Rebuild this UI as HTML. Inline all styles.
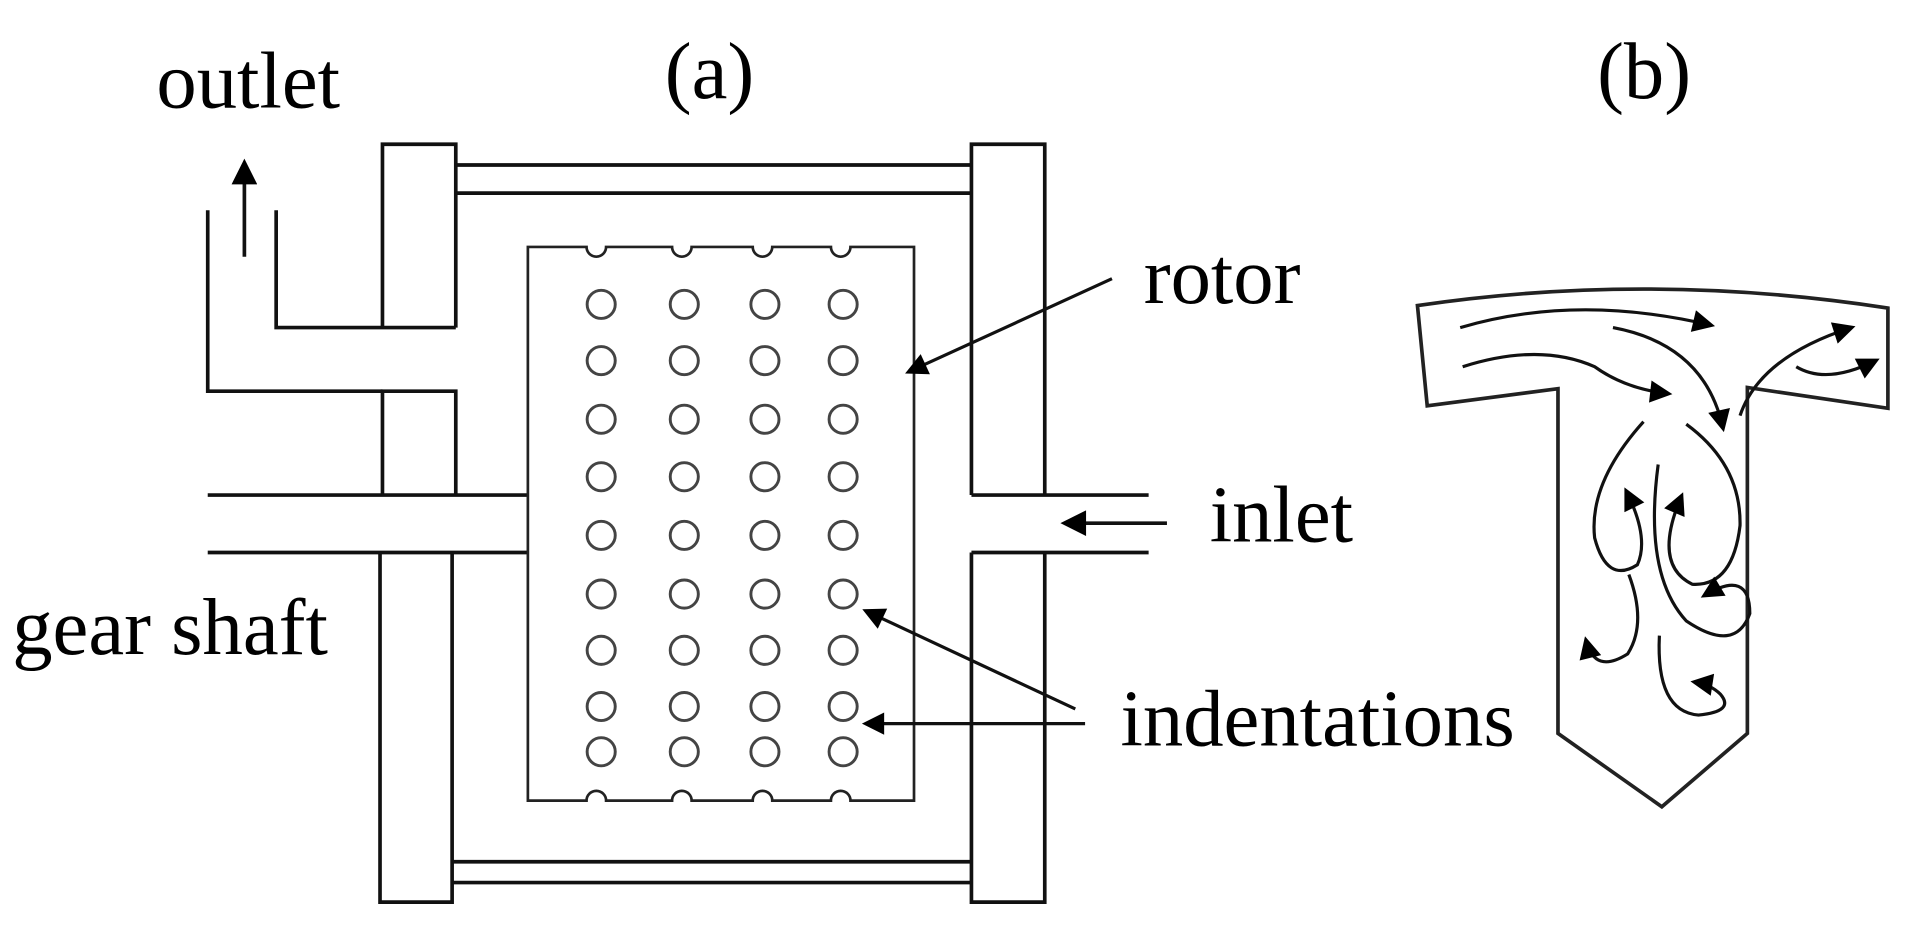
<!DOCTYPE html>
<html><head><meta charset="utf-8"><style>
html,body{margin:0;padding:0;background:#fff;}
svg{display:block;}
text{font-family:"Liberation Serif",serif;fill:#000;}
</style></head><body>
<svg width="1916" height="940" viewBox="0 0 1568 769" preserveAspectRatio="none" xmlns="http://www.w3.org/2000/svg">
<defs>
<marker id="ah" viewBox="0 0 10 10" refX="8" refY="5" markerWidth="8" markerHeight="7" orient="auto" markerUnits="strokeWidth">
<path d="M0,0 L10,5 L0,10 z" fill="#000"/></marker>
</defs>
<g font-size="66">
<text x="128" y="88">outlet</text>
<text x="544" y="80">(a)</text>
<text x="1307" y="80">(b)</text>
<text x="936" y="248">rotor</text>
<text x="990" y="443">inlet</text>
<text x="10" y="535">gear shaft</text>
<text x="917" y="610">indentations</text>
</g>
<g fill="none" stroke="#111" stroke-width="3">
<polyline points="313,268 313,118 373,118 373,268"/>
<polyline points="313,405 313,320 373,320 373,405"/>
<polyline points="311,452 311,738 370,738 370,452"/>
<polyline points="170,172 170,320 313,320"/>
<polyline points="226,172 226,268 373,268"/>
<line x1="200" y1="210" x2="200" y2="134" marker-end="url(#ah)"/>
<line x1="373" y1="135" x2="795" y2="135"/>
<line x1="373" y1="158" x2="795" y2="158"/>
<polyline points="795,405 795,118 855,118 855,405"/>
<polyline points="795,452 795,738 855,738 855,452"/>
<line x1="370" y1="705" x2="795" y2="705"/>
<line x1="370" y1="722" x2="795" y2="722"/>
<line x1="170" y1="405" x2="432" y2="405"/>
<line x1="170" y1="452" x2="432" y2="452"/>
<line x1="795" y1="405" x2="940" y2="405"/>
<line x1="795" y1="452" x2="940" y2="452"/>
<line x1="955" y1="428" x2="872" y2="428" marker-end="url(#ah)"/>
</g>
<g fill="none" stroke="#222" stroke-width="2.2">
<path d="M432,202 H480 A8,8 0 0 0 496,202 H550 A8,8 0 0 0 566,202 H616 A8,8 0 0 0 632,202 H680 A8,8 0 0 0 696,202 H748 V655 H696 A8,8 0 0 0 680,655 H632 A8,8 0 0 0 616,655 H566 A8,8 0 0 0 550,655 H496 A8,8 0 0 0 480,655 H432 Z"/>
</g>
<g fill="none" stroke="#444" stroke-width="2.4">
<g id="col">
<circle cx="492" cy="249" r="11.5"/><circle cx="492" cy="295" r="11.5"/><circle cx="492" cy="343" r="11.5"/>
<circle cx="492" cy="390" r="11.5"/><circle cx="492" cy="438" r="11.5"/><circle cx="492" cy="486" r="11.5"/>
<circle cx="492" cy="532" r="11.5"/><circle cx="492" cy="578" r="11.5"/><circle cx="492" cy="615" r="11.5"/>
</g>
<use href="#col" x="68"/><use href="#col" x="134"/><use href="#col" x="198"/>
</g>
<g fill="none" stroke="#111" stroke-width="2.6">
<line x1="910" y1="228" x2="744" y2="304" marker-end="url(#ah)"/>
<line x1="880" y1="580" x2="709" y2="500" marker-end="url(#ah)"/>
<line x1="888" y1="592" x2="709" y2="592" marker-end="url(#ah)"/>
</g>
<g fill="none" stroke="#222" stroke-width="3">
<path d="M1160,250 Q1350,222 1545,252 L1545,334 L1430,317 L1430,600 L1360,660 L1275,600 L1275,318 L1168,332 Z"/>
</g>
<g fill="none" stroke="#111" stroke-width="2.6">
<path d="M1195,268 Q1290,240 1400,266" marker-end="url(#ah)"/>
<path d="M1197,300 Q1260,280 1305,300 Q1330,318 1365,322" marker-end="url(#ah)"/>
<path d="M1320,268 Q1395,282 1410,350" marker-end="url(#ah)"/>
<path d="M1424,340 Q1440,292 1515,268" marker-end="url(#ah)"/>
<path d="M1470,300 Q1495,315 1535,295" marker-end="url(#ah)"/>
<path d="M1345,345 Q1300,395 1305,440 Q1315,478 1340,462 Q1350,440 1331,402" marker-end="url(#ah)"/>
<path d="M1380,347 Q1425,380 1424,430 Q1418,480 1385,478 Q1352,462 1376,406" marker-end="url(#ah)"/>
<path d="M1357,380 Q1345,470 1380,508 Q1420,535 1432,502 Q1432,465 1395,487" marker-end="url(#ah)"/>
<path d="M1333,470 Q1348,510 1332,535 Q1305,552 1298,524" marker-end="url(#ah)"/>
<path d="M1358,520 Q1355,582 1390,585 Q1420,582 1408,568 Q1400,560 1387,558" marker-end="url(#ah)"/>
</g>
</svg>
</body></html>
